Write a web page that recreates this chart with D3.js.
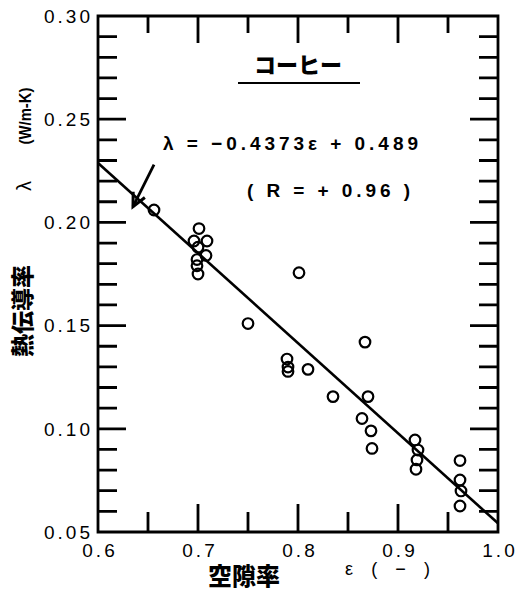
<!DOCTYPE html>
<html>
<head>
<meta charset="utf-8">
<script src="https://cdn.jsdelivr.net/npm/d3@7"></script>
<style>
  body { margin: 0; background: #fff; }
  svg { display: block; }
  .lbl { font-family: "Liberation Sans", Arial, sans-serif; font-size: 19px; fill: #000; letter-spacing: 3px; }
</style>
</head>
<body>
<div id="chart"></div>
<script>
// measured data: porosity (-) vs thermal conductivity (W/m-K), coffee
const porosity = [0.656, 0.701, 0.696, 0.709, 0.700, 0.708, 0.699, 0.699, 0.700,
                  0.750, 0.801, 0.789, 0.790, 0.790, 0.810, 0.835, 0.867, 0.870,
                  0.864, 0.873, 0.874, 0.917, 0.920, 0.919, 0.918,
                  0.962, 0.962, 0.963, 0.962];
const conductivity = [0.206, 0.197, 0.191, 0.191, 0.188, 0.184, 0.182, 0.179, 0.175,
                      0.151, 0.1756, 0.1338, 0.1299, 0.1278, 0.1288, 0.1156, 0.142, 0.1156,
                      0.105, 0.099, 0.0905, 0.0946, 0.0897, 0.0849, 0.0804,
                      0.0846, 0.0752, 0.0699, 0.0626];

// fitted line as drawn in the figure
const fitEps = [0.6, 1.0];
const fitLam = [0.2288, 0.0542];

// arrow pointing to the fit line
const arrowEps = [0.656, 0.635];
const arrowLam = [0.2280, 0.2076];

const xLabels = [0.6, 0.7, 0.8, 0.9, 1.0];
const xMajor = [0.7, 0.8, 0.9];
const xMinor = [0.65, 0.75, 0.85, 0.95];
const yLabels = [0.05, 0.10, 0.15, 0.20, 0.25, 0.30];
const yMajor = [0.10, 0.15, 0.20, 0.25];
const yMinor = [0.06, 0.07, 0.08, 0.09, 0.11, 0.12, 0.13, 0.14, 0.16, 0.17, 0.18, 0.19,
                0.21, 0.22, 0.23, 0.24, 0.26, 0.27, 0.28, 0.29];

const W = 526, H = 593;
const mLeft = 98, mRight = 498, mTop = 16, mBottom = 532;

const svg = d3.select("#chart").append("svg")
    .attr("width", W)
    .attr("height", H);

const x = d3.scaleLinear().domain([0.6, 1.0]).range([mLeft, mRight]);
const y = d3.scaleLinear().domain([0.05, 0.30]).range([mBottom, mTop]);

// frame and inward ticks in one path string
let d = `M${mLeft},${mTop}H${mRight}V${mBottom}H${mLeft}Z`;
xMajor.forEach(v => {
    d += `M${x(v)},${mBottom}V${mBottom - 28}`;
    d += `M${x(v)},${mTop}V${mTop + 27}`;
});
xMinor.forEach(v => {
    d += `M${x(v)},${mBottom}V${mBottom - 20}`;
    d += `M${x(v)},${mTop}V${mTop + 17}`;
});
yMajor.forEach(v => {
    d += `M${mLeft},${y(v)}H${mLeft + 28}`;
    d += `M${mRight},${y(v)}H${mRight - 28}`;
});
yMinor.forEach(v => {
    d += `M${mLeft},${y(v)}H${mLeft + 19}`;
    d += `M${mRight},${y(v)}H${mRight - 19}`;
});
svg.append("path")
    .attr("d", d)
    .style("fill", "none")
    .style("stroke", "#000")
    .style("stroke-width", "2.8px");

// tick labels
svg.selectAll(".xl").data(xLabels).enter().append("text")
    .attr("class", "lbl")
    .attr("x", v => x(v) + 2).attr("y", 557)
    .attr("text-anchor", "middle")
    .text(d3.format(".1f"));
svg.selectAll(".yl").data(yLabels).enter().append("text")
    .attr("class", "lbl")
    .attr("x", mLeft - 5).attr("y", v => y(v))
    .attr("dy", "0.36em")
    .attr("text-anchor", "end")
    .text(d3.format(".2f"));

// fit line
svg.append("line")
    .attr("x1", x(fitEps[0])).attr("y1", y(fitLam[0]))
    .attr("x2", x(fitEps[1])).attr("y2", y(fitLam[1]))
    .attr("stroke", "#000")
    .attr("stroke-width", 2.6);

// data points
svg.selectAll(".pt")
    .data(porosity.map((e, i) => ({e: e, l: conductivity[i]})))
    .enter().append("circle")
    .attr("class", "pt")
    .attr("cx", p => x(p.e))
    .attr("cy", p => y(p.l))
    .attr("r", 5.3)
    .style("fill", "none")
    .attr("stroke", "#000")
    .attr("stroke-width", 2.2);

// arrow
const ax0 = x(arrowEps[0]), ay0 = y(arrowLam[0]);
const ax1 = x(arrowEps[1]), ay1 = y(arrowLam[1]);
svg.append("line")
    .attr("x1", ax0).attr("y1", ay0).attr("x2", ax1).attr("y2", ay1)
    .attr("stroke", "#000").attr("stroke-width", 2.8);
const ang = Math.atan2(ay0 - ay1, ax0 - ax1);
const headLen = 15, spread = 0.45;
svg.append("path")
    .attr("d", d3.line()([
        [ax1 + headLen * Math.cos(ang + spread), ay1 + headLen * Math.sin(ang + spread)],
        [ax1, ay1],
        [ax1 + headLen * Math.cos(ang - spread), ay1 + headLen * Math.sin(ang - spread)]
    ]))
    .style("fill", "none")
    .attr("stroke", "#000")
    .attr("stroke-width", 3)
    .attr("stroke-linejoin", "miter");

// title
svg.append("text")
    .attr("x", 298).attr("y", 73)
    .attr("text-anchor", "middle")
    .style("font-family", "'Noto Sans CJK JP', sans-serif")
    .style("font-weight", "900")
    .style("font-size", "22px")
    .text("コーヒー");
svg.append("line")
    .attr("x1", 238).attr("x2", 360).attr("y1", 83).attr("y2", 83)
    .attr("stroke", "#000").attr("stroke-width", 2);

// equation
svg.append("text")
    .attr("x", 163).attr("y", 150)
    .attr("textLength", 255).attr("lengthAdjust", "spacing")
    .style("font-family", "'Liberation Sans', Arial, sans-serif")
    .style("font-weight", "bold")
    .style("font-size", "19px")
    .text("λ = −0.4373ε + 0.489");
svg.append("text")
    .attr("x", 247).attr("y", 197)
    .attr("textLength", 163).attr("lengthAdjust", "spacing")
    .style("font-family", "'Liberation Sans', Arial, sans-serif")
    .style("font-weight", "bold")
    .style("font-size", "19px")
    .text("( R = + 0.96 )");

// x axis title
svg.append("text")
    .attr("x", 244).attr("y", 585)
    .attr("text-anchor", "middle")
    .style("font-family", "'Noto Sans CJK JP', sans-serif")
    .style("font-weight", "900")
    .style("font-size", "24px")
    .text("空隙率");
svg.append("text")
    .attr("x", 345).attr("y", 575)
    .attr("textLength", 85).attr("lengthAdjust", "spacing")
    .style("font-family", "'Liberation Sans', Arial, sans-serif")
    .style("font-size", "18px")
    .text("ε ( − )");

// y axis title
svg.append("text")
    .attr("transform", "translate(23,311) rotate(-90)")
    .attr("text-anchor", "middle")
    .attr("dy", "0.36em")
    .style("font-family", "'Noto Sans CJK JP', sans-serif")
    .style("font-weight", "900")
    .style("font-size", "23px")
    .text("熱伝導率");
svg.append("text")
    .attr("transform", "translate(24,186) rotate(-90)")
    .attr("text-anchor", "middle")
    .attr("dy", "0.35em")
    .style("font-family", "'Liberation Sans', Arial, sans-serif")
    .style("font-size", "20px")
    .text("λ");
svg.append("text")
    .attr("transform", "translate(25,116) rotate(-90)")
    .attr("text-anchor", "middle")
    .attr("dy", "0.35em")
    .attr("textLength", 57).attr("lengthAdjust", "spacingAndGlyphs")
    .style("font-family", "'Liberation Sans', Arial, sans-serif")
    .style("font-weight", "bold")
    .style("font-size", "16px")
    .text("(W/m-K)");
</script>
</body>
</html>
